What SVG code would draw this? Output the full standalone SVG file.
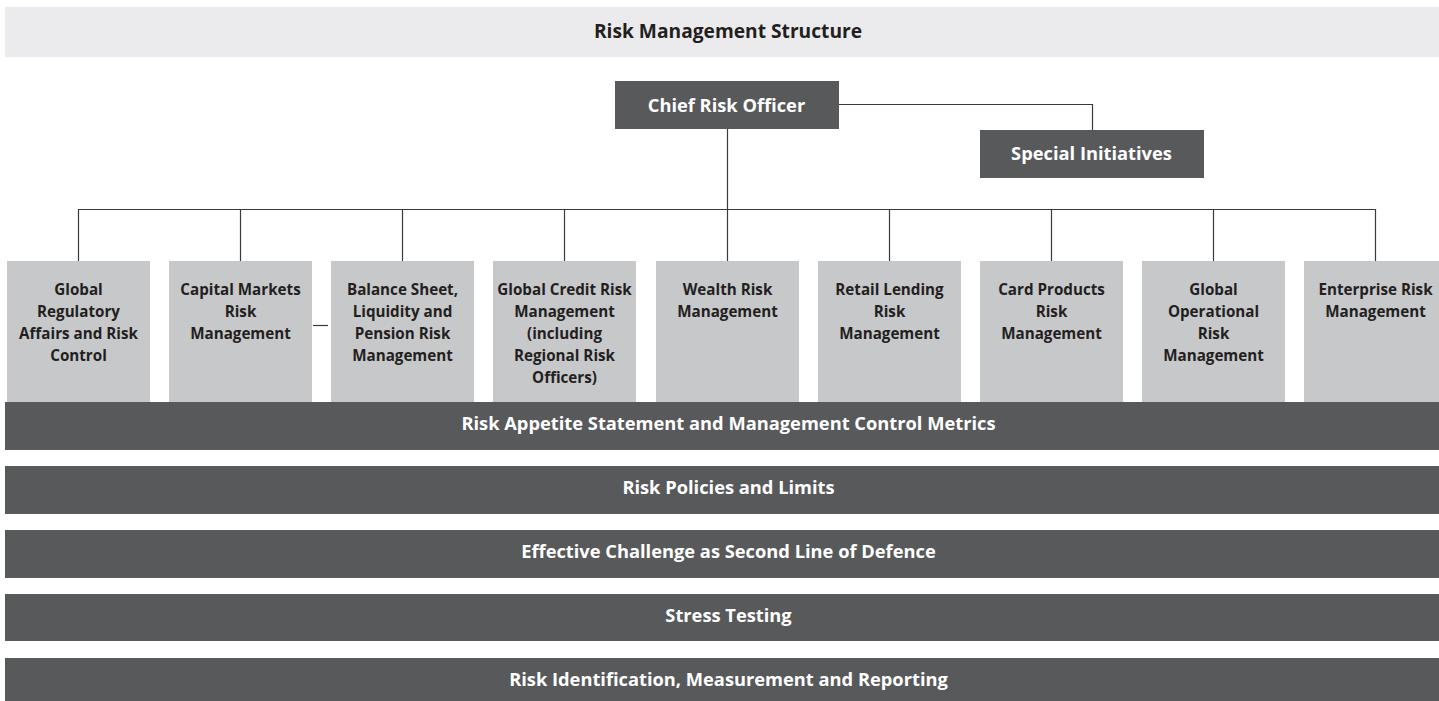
<svg xmlns="http://www.w3.org/2000/svg" width="1439" height="701" viewBox="0 0 1439 701">
  <style>
    .t { font-family: "Open Sans", "Liberation Sans", sans-serif; font-weight: bold; text-anchor: middle; }
    .s { font-size: 15.2px; }
    .m { font-size: 18.3px; }
    .l { font-size: 19.2px; }
    .w { fill: #ffffff; }
    .d { fill: #231f20; }
    .dark { fill: #58595b; }
    .unit { fill: #c7c8ca; }
    .conn { stroke: #3a3a3c; stroke-width: 1.2; fill: none; }
  </style>
  <rect width="1439" height="701" fill="#ffffff"/>

  <!-- Title band -->
  <g id="title">
    <rect x="5" y="7" width="1447" height="50" fill="#ebebed"/>
    <text class="t l d" x="728" y="38">Risk Management Structure</text>
  </g>

  <!-- Connectors -->
  <g id="connectors" class="conn">
    <path d="M839 104.5 H1092.5 V130"/>
    <path d="M727.5 129 V209.5"/>
    <path d="M78.5 261 V209.5 H1375.5 V261"/>
    <path d="M240.5 209.5 V261 M402.5 209.5 V261 M564.5 209.5 V261 M727.5 209.5 V261 M889.5 209.5 V261 M1051.5 209.5 V261 M1213.5 209.5 V261"/>
    <path d="M313 325.5 H328"/>
  </g>

  <g id="cro">
    <rect class="dark" x="615" y="81" width="224" height="48"/>
    <text class="t m w" x="726.5" y="112">Chief Risk Officer</text>
  </g>
  <g id="special">
    <rect class="dark" x="980" y="130" width="224" height="48"/>
    <text class="t m w" x="1091.5" y="160">Special Initiatives</text>
  </g>

  <!-- Risk units -->
  <g id="unit-regulatory">
    <rect class="unit" x="7" y="261" width="143" height="141"/>
    <text class="t s d" x="78.5" y="295">Global<tspan x="78.5" dy="22">Regulatory</tspan><tspan x="78.5" dy="22">Affairs and Risk</tspan><tspan x="78.5" dy="22">Control</tspan></text>
  </g>
  <g id="unit-capital-markets">
    <rect class="unit" x="169" y="261" width="143" height="141"/>
    <text class="t s d" x="240.5" y="295">Capital Markets<tspan x="240.5" dy="22">Risk</tspan><tspan x="240.5" dy="22">Management</tspan></text>
  </g>
  <g id="unit-balance-sheet">
    <rect class="unit" x="331" y="261" width="143" height="141"/>
    <text class="t s d" x="402.5" y="295">Balance Sheet,<tspan x="402.5" dy="22">Liquidity and</tspan><tspan x="402.5" dy="22">Pension Risk</tspan><tspan x="402.5" dy="22">Management</tspan></text>
  </g>
  <g id="unit-credit">
    <rect class="unit" x="493" y="261" width="143" height="141"/>
    <text class="t s d" x="564.5" y="295">Global Credit Risk<tspan x="564.5" dy="22">Management</tspan><tspan x="564.5" dy="22">(including</tspan><tspan x="564.5" dy="22">Regional Risk</tspan><tspan x="564.5" dy="22">Officers)</tspan></text>
  </g>
  <g id="unit-wealth">
    <rect class="unit" x="656" y="261" width="143" height="141"/>
    <text class="t s d" x="727.5" y="295">Wealth Risk<tspan x="727.5" dy="22">Management</tspan></text>
  </g>
  <g id="unit-retail">
    <rect class="unit" x="818" y="261" width="143" height="141"/>
    <text class="t s d" x="889.5" y="295">Retail Lending<tspan x="889.5" dy="22">Risk</tspan><tspan x="889.5" dy="22">Management</tspan></text>
  </g>
  <g id="unit-card">
    <rect class="unit" x="980" y="261" width="143" height="141"/>
    <text class="t s d" x="1051.5" y="295">Card Products<tspan x="1051.5" dy="22">Risk</tspan><tspan x="1051.5" dy="22">Management</tspan></text>
  </g>
  <g id="unit-operational">
    <rect class="unit" x="1142" y="261" width="143" height="141"/>
    <text class="t s d" x="1213.5" y="295">Global<tspan x="1213.5" dy="22">Operational</tspan><tspan x="1213.5" dy="22">Risk</tspan><tspan x="1213.5" dy="22">Management</tspan></text>
  </g>
  <g id="unit-enterprise">
    <rect class="unit" x="1304" y="261" width="143" height="141"/>
    <text class="t s d" x="1375.5" y="295">Enterprise Risk<tspan x="1375.5" dy="22">Management</tspan></text>
  </g>

  <!-- Cross-cutting bands -->
  <g id="band-appetite">
    <rect class="dark" x="5" y="402" width="1447" height="48"/>
    <text class="t m w" x="728.5" y="430">Risk Appetite Statement and Management Control Metrics</text>
  </g>
  <g id="band-policies">
    <rect class="dark" x="5" y="466" width="1447" height="48"/>
    <text class="t m w" x="728.5" y="494">Risk Policies and Limits</text>
  </g>
  <g id="band-challenge">
    <rect class="dark" x="5" y="530" width="1447" height="48"/>
    <text class="t m w" x="728.5" y="558">Effective Challenge as Second Line of Defence</text>
  </g>
  <g id="band-stress">
    <rect class="dark" x="5" y="594" width="1447" height="47"/>
    <text class="t m w" x="728.5" y="622">Stress Testing</text>
  </g>
  <g id="band-identification">
    <rect class="dark" x="5" y="658" width="1447" height="47"/>
    <text class="t m w" x="728.5" y="686">Risk Identification, Measurement and Reporting</text>
  </g>
</svg>
